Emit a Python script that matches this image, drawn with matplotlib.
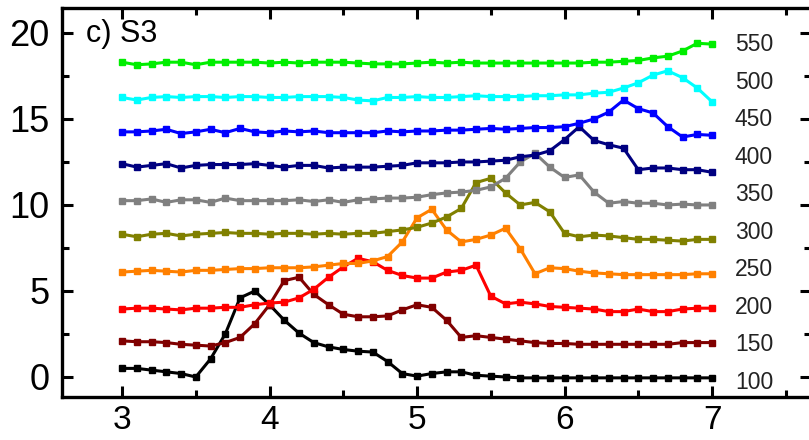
import matplotlib
matplotlib.use("Agg")
import matplotlib.pyplot as plt
from matplotlib.ticker import MultipleLocator

x = [3.0, 3.1, 3.2, 3.3, 3.4, 3.5, 3.6, 3.7, 3.8, 3.9,
     4.0, 4.1, 4.2, 4.3, 4.4, 4.5, 4.6, 4.7, 4.8, 4.9,
     5.0, 5.1, 5.2, 5.3, 5.4, 5.5, 5.6, 5.7, 5.8, 5.9,
     6.0, 6.1, 6.2, 6.3, 6.4, 6.5, 6.6, 6.7, 6.8, 6.9, 7.0]

s100 = [0.5, 0.5, 0.4, 0.3, 0.2, 0.0, 1.05, 2.5, 4.6, 5.0,
        4.2, 3.3, 2.55, 2.0, 1.75, 1.6, 1.5, 1.45, 0.9, 0.2,
        0.05, 0.2, 0.3, 0.3, 0.1, 0.05, 0.0, -0.05, -0.05, -0.05,
        -0.05, -0.05, -0.05, -0.05, -0.05, -0.05, -0.05, -0.05, -0.05, -0.05, -0.05]
s150 = [2.1, 2.05, 2.05, 2.0, 1.9, 1.85, 1.8, 2.0, 2.3, 3.1,
        4.2, 5.6, 5.8, 4.8, 4.2, 3.65, 3.5, 3.5, 3.55, 3.9,
        4.2, 4.05, 3.3, 2.3, 2.4, 2.3, 2.2, 2.1, 2.0, 1.95,
        1.95, 1.9, 1.9, 1.9, 1.9, 1.9, 1.9, 1.9, 2.0, 2.0, 2.0]
s200 = [3.95, 4.0, 4.0, 3.95, 3.9, 4.0, 4.0, 4.05, 4.05, 4.2,
        4.3, 4.35, 4.6, 5.1, 5.8, 6.4, 6.9, 6.7, 6.2, 5.9,
        5.75, 5.75, 6.1, 6.2, 6.5, 4.7, 4.25, 4.35, 4.25, 4.1,
        4.05, 4.0, 3.95, 3.8, 3.8, 3.95, 3.8, 3.8, 3.95, 4.0, 4.0]
s250 = [6.1, 6.15, 6.2, 6.15, 6.1, 6.2, 6.2, 6.25, 6.3, 6.3,
        6.35, 6.35, 6.35, 6.4, 6.5, 6.6, 6.6, 6.75, 7.0, 7.85,
        9.25, 9.75, 8.55, 7.85, 8.0, 8.25, 8.65, 7.45, 6.0, 6.35,
        6.3, 6.15, 6.05, 6.0, 5.95, 5.95, 5.95, 5.95, 5.95, 6.0, 6.0]
s300 = [8.3, 8.15, 8.3, 8.35, 8.2, 8.3, 8.35, 8.4, 8.35, 8.35,
        8.3, 8.35, 8.35, 8.3, 8.35, 8.3, 8.35, 8.35, 8.45, 8.55,
        8.7, 8.95, 9.3, 9.8, 11.3, 11.55, 10.7, 10.0, 10.15, 9.6,
        8.35, 8.15, 8.25, 8.2, 8.1, 8.0, 8.0, 7.95, 7.9, 8.0, 8.0]
s350 = [10.25, 10.25, 10.35, 10.15, 10.3, 10.3, 10.15, 10.4, 10.25, 10.25,
        10.25, 10.25, 10.3, 10.2, 10.3, 10.15, 10.3, 10.35, 10.4, 10.4,
        10.45, 10.6, 10.7, 10.75, 10.85, 11.05, 11.55, 12.5, 13.0, 12.2,
        11.6, 11.75, 10.75, 10.1, 10.2, 10.1, 10.1, 10.0, 10.05, 10.0, 10.0]
s400 = [12.4, 12.2, 12.3, 12.4, 12.15, 12.3, 12.35, 12.35, 12.35, 12.4,
        12.3, 12.2, 12.3, 12.3, 12.15, 12.2, 12.2, 12.2, 12.25, 12.3,
        12.45, 12.45, 12.45, 12.5, 12.5, 12.55, 12.6, 12.8, 12.9, 13.15,
        13.8, 14.55, 13.75, 13.5, 13.3, 12.05, 12.15, 12.15, 12.05, 12.05, 11.9]
s450 = [14.25, 14.25, 14.3, 14.4, 14.15, 14.25, 14.4, 14.2, 14.45, 14.25,
        14.2, 14.3, 14.25, 14.3, 14.2, 14.2, 14.2, 14.2, 14.3, 14.25,
        14.3, 14.3, 14.35, 14.35, 14.4, 14.45, 14.4, 14.45, 14.5, 14.5,
        14.55, 14.75, 15.0, 15.4, 16.1, 15.6, 15.35, 14.55, 13.95, 14.1, 14.05]
s500 = [16.25, 16.1, 16.25, 16.3, 16.25, 16.3, 16.3, 16.25, 16.3, 16.3,
        16.25, 16.25, 16.3, 16.3, 16.3, 16.25, 16.1, 16.05, 16.25, 16.25,
        16.3, 16.25, 16.25, 16.3, 16.35, 16.3, 16.3, 16.3, 16.35, 16.35,
        16.4, 16.4, 16.5, 16.55, 16.8, 17.1, 17.55, 17.8, 17.4, 16.8, 16.0]
s550 = [18.3, 18.15, 18.2, 18.3, 18.3, 18.15, 18.3, 18.3, 18.3, 18.3,
        18.25, 18.3, 18.25, 18.3, 18.3, 18.3, 18.25, 18.2, 18.2, 18.2,
        18.25, 18.3, 18.25, 18.3, 18.25, 18.25, 18.25, 18.25, 18.25, 18.25,
        18.25, 18.25, 18.3, 18.3, 18.35, 18.4, 18.55, 18.65, 18.95, 19.4, 19.35]

labels = ["100", "150", "200", "250", "300", "350", "400", "450", "500", "550"]
series = [s100, s150, s200, s250, s300, s350, s400, s450, s500, s550]
colors = ["#000000", "#800000", "#ff0000", "#ff8000", "#808000",
          "#808080", "#000080", "#0000ff", "#00ffff", "#00ee00"]

plt.rcParams['font.family'] = ['Liberation Sans', 'DejaVu Sans']

W, H = 809, 440
fig = plt.figure(figsize=(W / 100, H / 100), dpi=100)
left, right, top, bottom = 62, 811, 8, 397
ax = fig.add_axes([left / W, (H - bottom) / H, (right - left) / W, (bottom - top) / H])

for ys, c in zip(series, colors):
    ax.plot(x, ys, color=c, lw=2.2, marker='s', ms=5, mec=c, mfc=c, zorder=3)

for i, lab in enumerate(labels):
    ax.text(7.155, -0.3 + 2.18 * i, lab, fontsize=16.5, ha='left', va='center', color='#222222')

ax.text(2.755, 19.45, "c) S3", fontsize=22, ha='left', va='baseline')

ax.set_xlim(2.593, 7.671)
ax.set_ylim(-1.163, 21.45)
ax.xaxis.set_major_locator(MultipleLocator(1))
ax.xaxis.set_minor_locator(MultipleLocator(0.5))
ax.yaxis.set_major_locator(MultipleLocator(5))
ax.yaxis.set_minor_locator(MultipleLocator(2.5))
ax.tick_params(which='both', direction='in', top=True, right=True, width=2.2)
ax.tick_params(which='major', length=8)
ax.tick_params(which='minor', length=5)
ax.tick_params(axis='y', which='major', labelsize=26, pad=9)
ax.tick_params(axis='x', which='major', labelsize=24, pad=6)
for sp in ax.spines.values():
    sp.set_linewidth(2.4)

fig.savefig("out.png", dpi=100)
